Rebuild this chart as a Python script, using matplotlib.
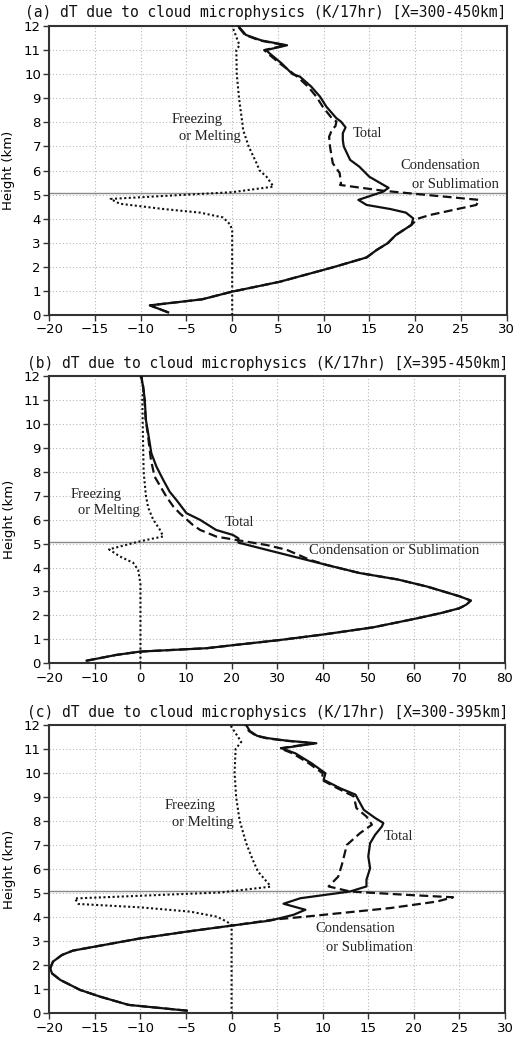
import matplotlib
matplotlib.use("Agg")
import matplotlib.pyplot as plt

# ---------------- data ----------------
# Panel (a)  X=300-450km
a_total_h = [0.11, 0.40, 0.65, 0.97, 1.38, 1.87, 2.0, 2.39, 2.7, 2.98, 3.32, 3.74, 4.01, 4.25, 4.40,
             4.57, 4.78, 5.12, 5.28, 5.74, 6.16, 6.44, 7.0, 7.27, 7.55, 7.79, 8.03, 8.17, 8.65, 9.07,
             9.48, 9.9, 10.0, 10.45, 10.86, 11.0, 11.2, 11.4, 11.63, 12.0]
a_total_x = [-7.0, -9.0, -3.3, 0.0, 5.2, 9.95, 11.2, 14.7, 15.8, 17.0, 17.9, 19.6, 19.8, 19.0, 17.3,
             14.7, 13.8, 16.5, 17.1, 15.0, 13.9, 12.9, 12.2, 12.1, 12.1, 12.4, 11.9, 11.4, 10.3, 9.6,
             8.65, 7.4, 6.6, 5.4, 4.1, 3.7, 6.0, 3.2, 1.5, 0.66]
a_cond_h = [0.11, 0.40, 0.65, 0.97, 1.38, 1.87, 2.0, 2.39, 2.7, 2.98, 3.32, 3.74, 4.0, 4.15, 4.57,
            4.78, 4.98, 5.16, 5.4, 5.47, 5.9, 6.3, 6.99, 7.4, 7.68, 7.85, 8.03, 8.17, 8.65, 9.07,
            9.48, 9.9, 10.45, 10.86, 11.0, 11.2, 11.4, 11.63, 12.0]
a_cond_x = [-7.0, -9.0, -3.3, 0.0, 5.2, 9.95, 11.2, 14.7, 15.8, 17.0, 17.9, 19.6, 20.3, 21.6, 26.7,
            27.0, 21.4, 16.5, 11.8, 11.9, 11.75, 11.0, 10.7, 10.6, 10.9, 11.3, 11.4, 10.9, 9.9, 9.2,
            8.3, 7.1, 5.2, 3.9, 3.5, 5.8, 3.0, 1.4, 0.6]
a_frz_h = [0.0, 3.5, 3.75, 4.05, 4.25, 4.4, 4.62, 4.82, 5.1, 5.33, 5.45, 5.74, 6.0, 6.3, 7.0,
           7.68, 8.0, 9.0, 10.0, 11.0, 11.2, 12.0]
a_frz_x = [0.0, 0.0, -0.2, -1.0, -3.5, -7.5, -12.3, -13.3, 0.0, 4.5, 4.3, 3.76, 3.0, 2.67, 1.8,
           1.2, 1.1, 0.75, 0.5, 0.45, 0.8, 0.0]

# Panel (b)  X=395-450km
b_total_h = [0.11, 0.35, 0.49, 0.63, 0.75, 0.97, 1.2, 1.5, 1.85, 2.1, 2.3, 2.45, 2.62, 2.8, 3.0,
             3.2, 3.5, 3.77, 4.04, 4.39, 4.74, 5.04, 5.22, 5.36, 5.57, 5.99, 6.27, 6.82, 7.17, 7.66,
             8.22, 8.77, 9.6, 10.17, 11.0, 11.4, 12.0]
b_total_x = [-11.8, -5.3, 0.0, 14.5, 20.0, 30.5, 40.0, 51.0, 60.0, 66.0, 70.0, 71.5, 72.5, 70.0, 66.5,
             63.0, 56.5, 48.1, 42.3, 35.0, 27.7, 21.5, 21.5, 20.3, 16.6, 13.1, 10.1, 7.9, 6.4, 5.0,
             3.5, 2.4, 1.7, 1.2, 0.95, 0.7, 0.2]
b_cond_h = [0.11, 0.35, 0.49, 0.63, 0.75, 0.97, 1.2, 1.5, 1.85, 2.1, 2.3, 2.45, 2.62, 2.8, 3.0,
            3.2, 3.5, 3.77, 4.11, 4.32, 4.74, 4.94, 5.15, 5.29, 5.57, 5.78, 6.27, 6.55, 6.96, 7.8,
            8.5, 9.6, 10.17, 11.0, 11.4, 12.0]
b_cond_x = [-11.8, -5.3, 0.0, 14.5, 20.0, 30.5, 40.0, 51.0, 60.0, 66.0, 70.0, 71.5, 72.5, 70.0, 66.5,
            63.0, 56.5, 48.1, 40.8, 37.2, 32.1, 27.7, 21.1, 16.7, 13.1, 11.5, 8.6, 7.2, 5.7, 3.1,
            2.3, 1.6, 1.15, 0.9, 0.7, 0.2]
b_frz_h = [0.0, 3.3, 3.5, 3.9, 4.2, 4.46, 4.76, 5.1, 5.3, 5.6, 6.0, 6.5, 7.0, 8.0, 9.0, 10.0,
           11.1, 11.5, 12.0]
b_frz_x = [0.0, 0.0, -0.15, -0.5, -1.6, -4.5, -6.9, 0.0, 5.0, 4.2, 2.8, 1.7, 1.2, 0.7, 0.6, 0.5,
           0.4, 0.7, 0.0]

# Panel (c)  X=300-395km
c_total_h = [0.11, 0.35, 0.69, 0.97, 1.39, 1.66, 1.87, 2.15, 2.43, 2.61, 3.12, 3.4, 3.65, 3.86, 4.1,
             4.31, 4.56, 4.79, 5.07, 5.28, 5.56, 6.04, 6.53, 7.08, 7.43, 7.78, 7.92, 8.13, 8.47, 9.1,
             9.37, 9.72, 9.99, 10.4, 10.82, 11.03, 11.24, 11.35, 11.45, 11.55, 11.75, 12.0]
c_total_x = [-4.9, -11.3, -14.4, -16.6, -18.8, -19.7, -19.9, -19.6, -18.6, -17.4, -10.0, -4.9, 0.0, 4.25, 6.8,
             8.1, 5.7, 7.55, 13.0, 14.8, 14.8, 15.2, 15.0, 15.2, 15.75, 16.5, 16.65, 15.75, 14.5, 13.6,
             11.9, 10.1, 10.3, 8.8, 7.0, 5.5, 9.3, 6.0, 4.0, 2.8, 2.0, 1.6]
c_cond_h = [0.11, 0.35, 0.69, 0.97, 1.39, 1.66, 1.87, 2.15, 2.43, 2.61, 3.12, 3.4, 3.65, 3.9, 4.03,
            4.38, 4.65, 4.83, 4.93, 5.07, 5.28, 5.69, 6.18, 7.01, 7.5, 7.85, 8.19, 8.54, 9.03, 9.37,
            9.72, 9.99, 10.4, 10.82, 11.03, 11.24, 11.35, 11.45, 11.55, 11.75, 12.0]
c_cond_x = [-4.9, -11.3, -14.4, -16.6, -18.8, -19.7, -19.9, -19.6, -18.6, -17.4, -10.0, -4.9, 0.0, 4.6, 8.3,
            17.4, 22.5, 24.3, 19.2, 13.0, 10.65, 11.7, 12.1, 12.65, 14.1, 15.4, 14.8, 13.7, 13.4, 11.6,
            9.9, 10.0, 8.5, 6.7, 5.3, 9.0, 5.8, 3.8, 2.7, 1.9, 1.5]
c_frz_h = [0.0, 3.33, 3.67, 3.81, 4.02, 4.23, 4.41, 4.55, 4.78, 5.03, 5.27, 5.35, 5.9, 6.38, 7.08,
           8.05, 9.0, 10.0, 11.0, 11.3, 12.0]
c_frz_x = [0.0, 0.0, 0.0, -0.5, -1.6, -4.5, -10.0, -16.8, -17.2, -1.2, 4.25, 4.15, 2.9, 2.33, 1.6,
           0.87, 0.5, 0.33, 0.44, 1.06, -0.15]

titles = ["(a) dT due to cloud microphysics (K/17hr) [X=300-450km]",
          "(b) dT due to cloud microphysics (K/17hr) [X=395-450km]",
          "(c) dT due to cloud microphysics (K/17hr) [X=300-395km]"]
xlims = [(-20, 30), (-20, 80), (-20, 30)]
xsteps = [5, 10, 5]
melt_level = 5.08

# ---------------- figure ----------------
W, H = 531, 1037
fig = plt.figure(figsize=(W / 100, H / 100), dpi=100)

def px_rect(x0, y0, x1, y1):
    return [x0 / W, 1 - y1 / H, (x1 - x0) / W, (y1 - y0) / H]

rects = [px_rect(49.3, 26, 506.5, 315), px_rect(49.3, 376, 505, 663.3), px_rect(49.3, 725, 505, 1013.3)]
title_pos = [(25, 13), (26.7, 363.3), (26.7, 712.3)]

data = [
    (a_total_h, a_total_x, a_cond_h, a_cond_x, a_frz_h, a_frz_x),
    (b_total_h, b_total_x, b_cond_h, b_cond_x, b_frz_h, b_frz_x),
    (c_total_h, c_total_x, c_cond_h, c_cond_x, c_frz_h, c_frz_x),
]

serif = "Liberation Serif"
lab_fs = 10.5
labels = [
    [("Freezing", -6.62, 8.13), ("or Melting", -5.79, 7.43), ("Total", 13.16, 7.55),
     ("Condensation", 18.4, 6.19), ("or Sublimation", 19.67, 5.40)],
    [("Freezing", -15.3, 7.03), ("or Melting", -13.6, 6.38), ("Total", 18.56, 5.87),
     ("Condensation or Sublimation", 37.0, 4.70)],
    [("Freezing", -7.35, 8.63), ("or Melting", -6.55, 7.93), ("Total", 16.7, 7.35),
     ("Condensation", 9.2, 3.54), ("or Sublimation", 10.4, 2.75)],
]

ink = "#111111"
for i in range(3):
    ax = fig.add_axes(rects[i])
    th, tx, ch, cx, fh, fx = data[i]
    ax.plot(cx, ch, color=ink, lw=1.6, linestyle=(0, (4, 2)), zorder=3)
    ax.plot(tx, th, color=ink, lw=1.6, linestyle="-", zorder=4)
    ax.plot(fx, fh, color=ink, lw=1.5, linestyle=(0, (1, 1.2)), zorder=3)
    ax.axhline(melt_level, color="#8a8a8a", lw=1.0, zorder=2)

    x0, x1 = xlims[i]
    ax.set_xlim(x0, x1)
    ax.set_ylim(0, 12)
    ax.set_xticks(range(x0, x1 + 1, xsteps[i]))
    ax.set_yticks(range(0, 13))
    ax.grid(True, color="#b8b8b8", linestyle=(0, (1, 2)), lw=0.8)
    ax.set_axisbelow(True)
    for s in ax.spines.values():
        s.set_color("#333333")
        s.set_linewidth(1.5)
    ax.tick_params(direction="out", length=4, width=1, labelsize=9.5, color="#333333",
                   top=False, right=False, pad=2)
    ax.set_ylabel("Height (km)", fontsize=9.5)
    ax.yaxis.set_label_coords(-0.074, 0.5)

    for txt, lx, ly in labels[i]:
        ax.text(lx, ly, txt, family=serif, fontsize=lab_fs, ha="left", va="center",
                color="#222222", zorder=5)

    tx_, ty_ = title_pos[i]
    fig.text(tx_ / W, 1 - ty_ / H, titles[i], family="DejaVu Sans Mono", fontsize=10.5,
             ha="left", va="center", color="#111111")

fig.savefig("out.png", dpi=100)
